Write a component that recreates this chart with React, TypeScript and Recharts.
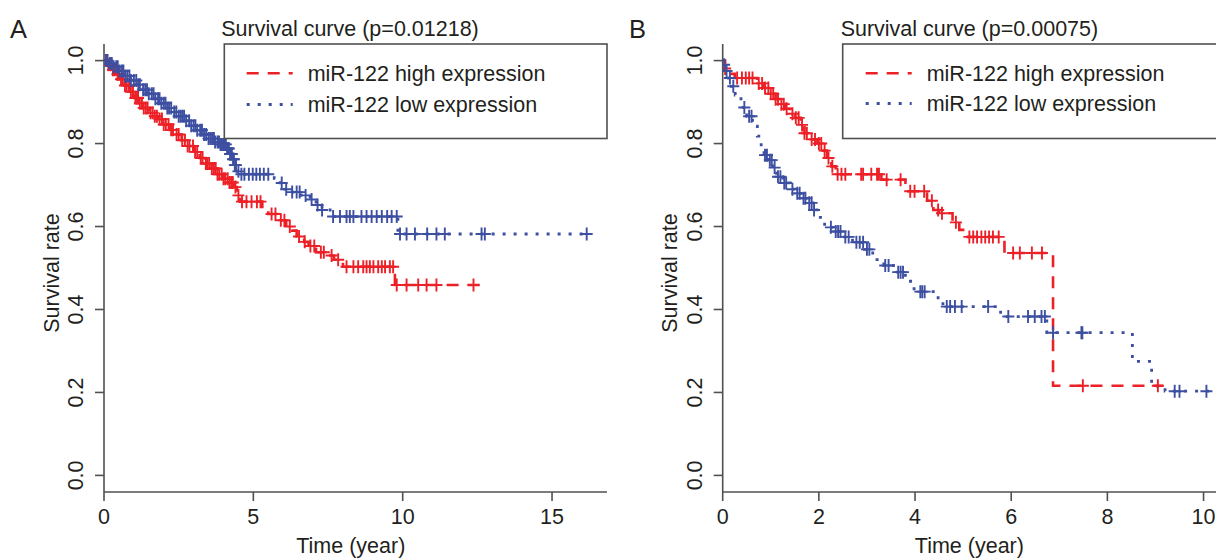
import { ComposedChart, Line, Scatter, XAxis, YAxis } from 'recharts';

const RED = '#ec2027';
const BLUE = '#3d4fa1';
const AXIS = '#505050';
const INK = '#231f20';
const FONT = '"Liberation Sans", Arial, Helvetica, sans-serif';
const FS = 21.5;

// Panel A: Kaplan-Meier steps (time in years, survival)
const highTimeA = [0, 0.1, 0.25, 0.4, 0.55, 0.7, 0.85, 1.0, 1.15, 1.3, 1.5, 1.65, 1.8, 2.0, 2.2, 2.4, 2.6, 2.8, 3.0, 3.2, 3.4, 3.6, 3.8, 4.0, 4.2, 4.35, 4.45, 4.55, 5.3, 5.5, 5.8, 6.1, 6.3, 6.45, 6.7, 6.85, 7.1, 7.4, 7.7, 8.0, 9.74, 12.6];
const highSurvA = [1.0, 0.99, 0.978, 0.967, 0.955, 0.94, 0.925, 0.91, 0.897, 0.886, 0.874, 0.866, 0.859, 0.846, 0.833, 0.822, 0.808, 0.794, 0.78, 0.765, 0.752, 0.74, 0.726, 0.715, 0.706, 0.695, 0.675, 0.66, 0.64, 0.63, 0.615, 0.6, 0.59, 0.576, 0.563, 0.553, 0.538, 0.53, 0.52, 0.503, 0.459, 0.459];
const highCensorA = [0.08, 0.15, 0.22, 0.3, 0.36, 0.45, 0.5, 0.57, 0.63, 0.7, 0.76, 0.84, 0.9, 0.97, 1.05, 1.1, 1.14, 1.2, 1.27, 1.33, 1.4, 1.46, 1.56, 1.63, 1.7, 1.77, 1.86, 1.94, 2.0, 2.07, 2.16, 2.25, 2.31, 2.43, 2.5, 2.62, 2.71, 2.8, 2.86, 2.98, 3.05, 3.12, 3.24, 3.3, 3.41, 3.45, 3.52, 3.61, 3.68, 3.74, 3.8, 3.86, 3.94, 4.0, 4.06, 4.14, 4.2, 4.26, 4.31, 4.4, 4.5, 4.62, 4.77, 4.94, 5.12, 5.24, 5.61, 5.74, 5.92, 6.04, 6.22, 6.53, 6.72, 6.91, 7.04, 7.26, 7.36, 7.62, 7.84, 8.12, 8.35, 8.51, 8.68, 8.79, 8.9, 9.02, 9.18, 9.3, 9.41, 9.57, 9.68, 9.8, 10.13, 10.52, 10.8, 11.13, 12.37];

const lowTimeA = [0, 0.15, 0.3, 0.5, 0.7, 0.9, 1.1, 1.3, 1.5, 1.7, 1.9, 2.1, 2.3, 2.5, 2.7, 2.9, 3.1, 3.3, 3.5, 3.7, 3.9, 4.1, 4.2, 4.3, 4.38, 4.45, 4.55, 5.7, 5.9, 6.05, 6.15, 6.6, 6.9, 7.1, 7.3, 7.57, 9.84, 16.2];
const lowSurvA = [1.0, 0.993, 0.985, 0.975, 0.963, 0.952, 0.942, 0.93, 0.92, 0.908, 0.897, 0.886, 0.876, 0.866, 0.855, 0.843, 0.832, 0.822, 0.812, 0.804, 0.798, 0.788, 0.775, 0.762, 0.748, 0.733, 0.726, 0.716, 0.705, 0.69, 0.683, 0.675, 0.665, 0.652, 0.64, 0.624, 0.582, 0.582];
const lowCensorA = [0.06, 0.12, 0.2, 0.26, 0.32, 0.41, 0.46, 0.52, 0.6, 0.65, 0.71, 0.78, 0.85, 0.9, 1.0, 1.08, 1.15, 1.2, 1.31, 1.38, 1.44, 1.5, 1.6, 1.66, 1.72, 1.81, 1.86, 1.92, 2.0, 2.06, 2.12, 2.18, 2.25, 2.35, 2.42, 2.5, 2.56, 2.62, 2.68, 2.75, 2.85, 2.92, 3.0, 3.06, 3.12, 3.22, 3.28, 3.35, 3.42, 3.5, 3.56, 3.62, 3.68, 3.72, 3.8, 3.85, 3.9, 3.95, 4.0, 4.04, 4.08, 4.12, 4.15, 4.18, 4.22, 4.25, 4.28, 4.32, 4.35, 4.38, 4.42, 4.5, 4.6, 4.7, 4.85, 4.98, 5.1, 5.22, 5.35, 5.5, 5.95, 6.1, 6.3, 6.45, 6.55, 6.75, 6.95, 7.15, 7.3, 7.67, 7.9, 8.12, 8.23, 8.35, 8.62, 8.79, 8.96, 9.13, 9.3, 9.48, 9.63, 9.8, 9.91, 10.13, 10.41, 10.82, 11.13, 11.41, 12.64, 12.75, 16.16];

// Panel B
const highTimeB = [0, 0.05, 0.12, 0.25, 0.72, 0.85, 1.0, 1.1, 1.2, 1.3, 1.4, 1.5, 1.62, 1.7, 1.78, 1.97, 2.08, 2.17, 2.26, 2.35, 3.3, 3.8, 4.25, 4.38, 4.5, 4.78, 4.92, 5.0, 5.86, 6.87, 9.16];
const highSurvB = [1.0, 0.981, 0.968, 0.958, 0.945, 0.934, 0.92, 0.907, 0.895, 0.884, 0.872, 0.862, 0.845, 0.825, 0.81, 0.8, 0.783, 0.765, 0.745, 0.726, 0.713, 0.685, 0.662, 0.64, 0.632, 0.61, 0.592, 0.575, 0.536, 0.216, 0.216];
const highCensorB = [0.05, 0.3, 0.4, 0.48, 0.55, 0.62, 0.75, 0.82, 0.88, 0.95, 1.0, 1.05, 1.1, 1.15, 1.22, 1.27, 1.33, 1.45, 1.52, 1.58, 1.65, 1.7, 1.75, 1.85, 1.92, 2.0, 2.05, 2.12, 2.2, 2.28, 2.39, 2.47, 2.55, 2.88, 2.92, 3.09, 3.21, 3.25, 3.41, 3.7, 3.9, 3.99, 4.19, 4.35, 4.48, 4.56, 4.85, 5.13, 5.21, 5.29, 5.38, 5.46, 5.54, 5.62, 5.74, 6.04, 6.18, 6.43, 6.64, 7.49, 9.05];

const lowTimeB = [0, 0.03, 0.06, 0.12, 0.18, 0.26, 0.38, 0.5, 0.62, 0.72, 0.8, 0.86, 0.95, 1.04, 1.12, 1.25, 1.4, 1.5, 1.62, 1.76, 1.88, 2.0, 2.12, 2.3, 2.5, 2.7, 2.95, 3.12, 3.35, 3.6, 3.8, 3.98, 4.48, 4.58, 5.78, 6.74, 8.52, 8.92, 9.2, 10.13];
const lowSurvB = [1.0, 0.99, 0.975, 0.958, 0.938, 0.917, 0.887, 0.866, 0.842, 0.818, 0.79, 0.772, 0.76, 0.742, 0.72, 0.705, 0.69, 0.68, 0.668, 0.657, 0.64, 0.622, 0.598, 0.588, 0.575, 0.562, 0.545, 0.52, 0.506, 0.49, 0.468, 0.443, 0.42, 0.407, 0.383, 0.344, 0.275, 0.215, 0.203, 0.203];
const lowCensorB = [0.03, 0.08, 0.15, 0.22, 0.45, 0.55, 0.6, 0.88, 0.92, 0.98, 1.02, 1.08, 1.15, 1.2, 1.28, 1.32, 1.45, 1.55, 1.6, 1.68, 1.72, 1.8, 1.85, 1.9, 2.25, 2.35, 2.4, 2.45, 2.55, 2.62, 2.78, 2.85, 2.92, 3.0, 3.05, 3.38, 3.45, 3.65, 3.7, 3.75, 4.11, 4.15, 4.2, 4.66, 4.73, 4.83, 4.97, 5.52, 5.94, 6.35, 6.49, 6.63, 6.7, 6.87, 7.46, 7.48, 9.4, 9.5, 10.06];

const yTicks = [0, 0.2, 0.4, 0.6, 0.8, 1.0];
const xTicksA = [0, 5, 10, 15];
const xTicksB = [0, 2, 4, 6, 8, 10];
const titles = ['Survival curve (p=0.01218)', 'Survival curve (p=0.00075)'];
const legendLabels = ['miR-122 high expression', 'miR-122 low expression'];

type Pt = { t: number; s: number };

function steps(times: number[], surv: number[]): Pt[] {
  return times.map((t, i) => ({ t, s: surv[i] }));
}

// censor marks sit on the KM curve at the time of censoring
function marks(times: number[], surv: number[], censor: number[]): Pt[] {
  return censor.map((t) => {
    let s = surv[0];
    for (let i = 0; i < times.length; i++) if (times[i] <= t) s = surv[i];
    return { t, s };
  });
}

function plus(color: string) {
  return (p: any) => (
    <path
      d={`M${p.cx - 6},${p.cy}h12M${p.cx},${p.cy - 6.5}v13`}
      stroke={color}
      strokeWidth={1.9}
      fill="none"
    />
  );
}

function YTick({ x, y, payload }: any) {
  return (
    <text
      x={x}
      y={y}
      transform={`rotate(-90 ${x} ${y})`}
      textAnchor="middle"
      fill={INK}
      fontSize={FS}
      fontFamily={FONT}
    >
      {Number(payload.value).toFixed(1)}
    </text>
  );
}

type PanelProps = {
  left: number;
  marginLeft: number;
  marginRight: number;
  xMax: number;
  xTicks: number[];
  high: Pt[];
  highMarks: Pt[];
  low: Pt[];
  lowMarks: Pt[];
};

function Panel(p: PanelProps) {
  const yDomain: [number, number] = [-0.04, 1.04];
  const xDomain: [number, number] = [0, p.xMax];
  return (
    <div style={{ position: 'absolute', left: p.left, top: 0 }}>
      <ComposedChart
        width={620}
        height={558}
        margin={{ top: 44, right: p.marginRight, left: p.marginLeft, bottom: 26 }}
      >
        <XAxis
          dataKey="t"
          type="number"
          domain={xDomain}
          ticks={p.xTicks}
          allowDataOverflow
          height={40}
          tickSize={9}
          tickMargin={8}
          stroke={AXIS}
          strokeWidth={1.6}
          tick={{ fill: INK, fontSize: FS, fontFamily: FONT }}
        />
        <XAxis
          xAxisId="top"
          orientation="top"
          dataKey="t"
          type="number"
          domain={xDomain}
          allowDataOverflow
          height={0}
          tick={false}
          tickLine={false}
          stroke={AXIS}
          strokeWidth={1.6}
        />
        <YAxis
          dataKey="s"
          type="number"
          domain={yDomain}
          ticks={yTicks}
          allowDataOverflow
          width={60}
          tickSize={9}
          tickMargin={12}
          stroke={AXIS}
          strokeWidth={1.6}
          tick={<YTick />}
        />
        <YAxis
          yAxisId="right"
          orientation="right"
          dataKey="s"
          type="number"
          domain={yDomain}
          allowDataOverflow
          width={0}
          tick={false}
          tickLine={false}
          stroke={AXIS}
          strokeWidth={1.6}
        />
        <Line
          data={p.high}
          dataKey="s"
          type="stepAfter"
          stroke={RED}
          strokeWidth={2.6}
          strokeDasharray="12 9"
          dot={false}
          activeDot={false}
          isAnimationActive={false}
        />
        <Scatter data={p.highMarks} fill={RED} shape={plus(RED)} isAnimationActive={false} />
        <Line
          data={p.low}
          dataKey="s"
          type="stepAfter"
          stroke={BLUE}
          strokeWidth={2.8}
          strokeDasharray="3 8"
          dot={false}
          activeDot={false}
          isAnimationActive={false}
        />
        <Scatter data={p.lowMarks} fill={BLUE} shape={plus(BLUE)} isAnimationActive={false} />
      </ComposedChart>
    </div>
  );
}

function Legend({ boxX, boxW, y1, y2, lineX }: { boxX: number; boxW: number; y1: number; y2: number; lineX: number }) {
  return (
    <g>
      <rect x={boxX} y={44} width={boxW} height={94.5} fill="none" stroke={AXIS} strokeWidth={1.6} />
      <line x1={lineX} x2={lineX + 46} y1={y1} y2={y1} stroke={RED} strokeWidth={2.6} strokeDasharray="12 9" />
      <line x1={lineX} x2={lineX + 46} y1={y2} y2={y2} stroke={BLUE} strokeWidth={2.8} strokeDasharray="3 8" />
      <text x={lineX + 61} y={y1 + 7.5} fill={INK} fontSize={FS} fontFamily={FONT}>{legendLabels[0]}</text>
      <text x={lineX + 61} y={y2 + 7.2} fill={INK} fontSize={FS} fontFamily={FONT}>{legendLabels[1]}</text>
    </g>
  );
}

export default function App() {
  return (
    <div
      style={{
        position: 'absolute',
        left: 0,
        top: 0,
        width: 1216,
        height: 558,
        overflow: 'hidden',
        background: '#fff',
      }}
    >
      <Panel
        left={0}
        marginLeft={44}
        marginRight={13}
        xMax={16.84}
        xTicks={xTicksA}
        high={steps(highTimeA, highSurvA)}
        highMarks={marks(highTimeA, highSurvA, highCensorA)}
        low={steps(lowTimeA, lowSurvA)}
        lowMarks={marks(lowTimeA, lowSurvA, lowCensorA)}
      />
      <Panel
        left={620}
        marginLeft={42.7}
        marginRight={23}
        xMax={10.28}
        xTicks={xTicksB}
        high={steps(highTimeB, highSurvB)}
        highMarks={marks(highTimeB, highSurvB, highCensorB)}
        low={steps(lowTimeB, lowSurvB)}
        lowMarks={marks(lowTimeB, lowSurvB, lowCensorB)}
      />
      <svg
        width={1216}
        height={558}
        style={{ position: 'absolute', left: 0, top: 0, pointerEvents: 'none' }}
      >
        <text x={10} y={38} fill={INK} fontSize={25.5} fontFamily={FONT}>A</text>
        <text x={629} y={38} fill={INK} fontSize={25.5} fontFamily={FONT}>B</text>
        <text x={350} y={35.5} textAnchor="middle" fill={INK} fontSize={FS} fontFamily={FONT}>{titles[0]}</text>
        <text x={969.4} y={35.5} textAnchor="middle" fill={INK} fontSize={FS} fontFamily={FONT}>{titles[1]}</text>
        <text x={59} y={273} transform="rotate(-90 59 273)" textAnchor="middle" fill={INK} fontSize={FS} fontFamily={FONT}>Survival rate</text>
        <text x={676.6} y={273} transform="rotate(-90 676.6 273)" textAnchor="middle" fill={INK} fontSize={FS} fontFamily={FONT}>Survival rate</text>
        <text x={350.8} y={553} textAnchor="middle" fill={INK} fontSize={FS} fontFamily={FONT}>Time (year)</text>
        <text x={969.4} y={553} textAnchor="middle" fill={INK} fontSize={FS} fontFamily={FONT}>Time (year)</text>
        <Legend boxX={224.3} boxW={382.7} y1={73.3} y2={104.5} lineX={246.7} />
        <Legend boxX={842.7} boxW={380} y1={73.3} y2={103.5} lineX={865.7} />
      </svg>
    </div>
  );
}
